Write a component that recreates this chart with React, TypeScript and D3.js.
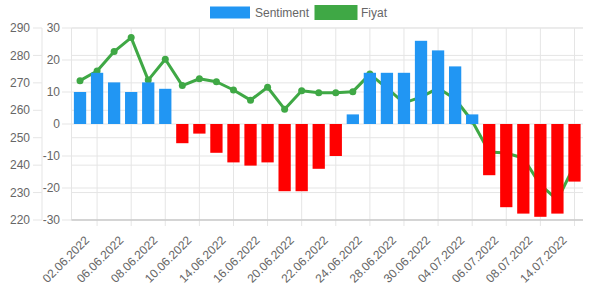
//@ts-nocheck
import React, { useRef, useEffect } from 'react'
import * as d3 from 'd3'

const dates = [
  '02.06.2022', '03.06.2022', '06.06.2022', '07.06.2022', '08.06.2022', '09.06.2022',
  '10.06.2022', '13.06.2022', '14.06.2022', '15.06.2022', '16.06.2022', '17.06.2022',
  '20.06.2022', '21.06.2022', '22.06.2022', '23.06.2022', '24.06.2022', '27.06.2022',
  '28.06.2022', '29.06.2022', '30.06.2022', '01.07.2022', '04.07.2022', '05.07.2022',
  '06.07.2022', '07.07.2022', '08.07.2022', '13.07.2022', '14.07.2022', '15.07.2022'
]
const sentiment = [
  10, 16, 13, 10, 13, 11, -6, -3, -9, -12, -13, -12, -21, -21, -14, -10,
  3, 16, 16, 16, 26, 23, 18, 3, -16, -26, -28, -29, -28, -18
]
const fiyat = [
  270.8, 274.3, 281.4, 286.5, 271.0, 278.6, 269.0, 271.5, 270.4, 267.4, 263.7, 268.4,
  260.4, 267.1, 266.4, 266.4, 266.8, 273.2, 268.1, 262.7, 264.8, 268.1, 264.1, 256.1,
  244.8, 244.4, 242.6, 232.8, 227.3, 240.0
]
const priceTicks = [220, 230, 240, 250, 260, 270, 280, 290]
const sentTicks = [-30, -20, -10, 0, 10, 20, 30]

const BLUE = '#2196f3'
const RED = '#ff0000'
const GREEN = '#3fa845'

export default function App() {
  const node = useRef(null)

  useEffect(() => {
    const width = 600
    const height = 290
    const svg = d3.select(node.current)
    svg.selectAll('*').remove()
    svg.attr('width', width).attr('height', height)

    const plot = { left: 71.5, right: 583, top: 28, bottom: 220 }

    const x = d3.scaleBand().domain(dates).range([plot.left, plot.right]).paddingInner(0.28).paddingOuter(0.14)
    const cx = (d) => x(d) + x.bandwidth() / 2
    const yS = d3.scaleLinear().domain([-30, 30]).range([plot.bottom, plot.top])
    const yP = d3.scaleLinear().domain([220, 290]).range([plot.bottom, plot.top])

    const font = 'Liberation Sans, Arial, Helvetica, sans-serif'
    svg.attr('font-family', font).attr('font-size', 12)

    // grid
    const grid = svg.append('g').attr('stroke', '#e5e5e5').attr('stroke-width', 1)
    priceTicks.forEach((t) => {
      grid.append('line').attr('x1', plot.left).attr('x2', plot.right).attr('y1', yP(t)).attr('y2', yP(t))
    })
    sentTicks.forEach((t) => {
      grid.append('line').attr('x1', plot.left).attr('x2', plot.right).attr('y1', yS(t)).attr('y2', yS(t))
    })
    grid.append('line').attr('x1', plot.left).attr('x2', plot.left).attr('y1', plot.top).attr('y2', plot.bottom)
    dates.forEach((d, i) => {
      if (i % 2 === 1) {
        grid.append('line').attr('x1', cx(d)).attr('x2', cx(d)).attr('y1', plot.top).attr('y2', plot.bottom + 6)
      }
    })

    // outer price axis
    const pAxis = svg.append('g')
    pAxis.append('line').attr('x1', 42).attr('x2', 42).attr('y1', plot.top).attr('y2', plot.bottom).attr('stroke', '#e5e5e5')
    priceTicks.forEach((t) => {
      pAxis.append('line').attr('x1', 33).attr('x2', 42).attr('y1', yP(t)).attr('y2', yP(t)).attr('stroke', '#e5e5e5')
      pAxis.append('text').attr('x', 30).attr('y', yP(t)).attr('dy', '0.35em').attr('text-anchor', 'end').attr('fill', '#666').text(t)
    })

    // inner sentiment axis
    const sAxis = svg.append('g')
    sentTicks.forEach((t) => {
      sAxis.append('line').attr('x1', 62).attr('x2', plot.left).attr('y1', yS(t)).attr('y2', yS(t)).attr('stroke', '#e5e5e5')
      sAxis.append('text').attr('x', 60).attr('y', yS(t)).attr('dy', '0.35em').attr('text-anchor', 'end').attr('fill', '#666').text(t)
    })

    // bottom border
    svg.append('line').attr('x1', plot.left).attr('x2', plot.right).attr('y1', plot.bottom).attr('y2', plot.bottom).attr('stroke', '#bdbdbd')

    // x labels
    dates.forEach((d, i) => {
      if (i % 2 === 0) {
        svg
          .append('text')
          .attr('transform', `translate(${cx(d) + 10},${plot.bottom + 21}) rotate(-45)`)
          .attr('text-anchor', 'end')
          .attr('fill', '#666')
          .text(d)
      }
    })

    // price line (behind bars)
    const line = d3
      .line()
      .x((d, i) => cx(dates[i]))
      .y((d) => yP(d))
    svg.append('path').attr('d', line(fiyat)).attr('fill', 'none').attr('stroke', GREEN).attr('stroke-width', 3).attr('stroke-linejoin', 'round')
    svg
      .append('g')
      .selectAll('circle')
      .data(fiyat)
      .join('circle')
      .attr('cx', (d, i) => cx(dates[i]))
      .attr('cy', (d) => yP(d))
      .attr('r', 3.5)
      .attr('fill', GREEN)

    // sentiment bars
    svg
      .append('g')
      .selectAll('rect')
      .data(sentiment)
      .join('rect')
      .attr('x', (d, i) => x(dates[i]))
      .attr('width', x.bandwidth())
      .attr('y', (d) => Math.min(yS(d), yS(0)))
      .attr('height', (d) => Math.abs(yS(d) - yS(0)))
      .attr('fill', (d) => (d >= 0 ? BLUE : RED))

    // legend
    svg.append('rect').attr('x', 210).attr('y', 6.5).attr('width', 40).attr('height', 12).attr('fill', BLUE)
    svg.append('text').attr('x', 255).attr('y', 12.5).attr('dy', '0.35em').attr('fill', '#666').text('Sentiment')
    svg.append('rect').attr('x', 316).attr('y', 6.5).attr('width', 40).attr('height', 12).attr('fill', GREEN).attr('stroke', GREEN).attr('stroke-width', 3)
    svg.append('text').attr('x', 361).attr('y', 12.5).attr('dy', '0.35em').attr('fill', '#666').text('Fiyat')
  }, [])

  return <svg ref={node} style={{ position: 'absolute', left: 0, top: 0 }}></svg>
}
